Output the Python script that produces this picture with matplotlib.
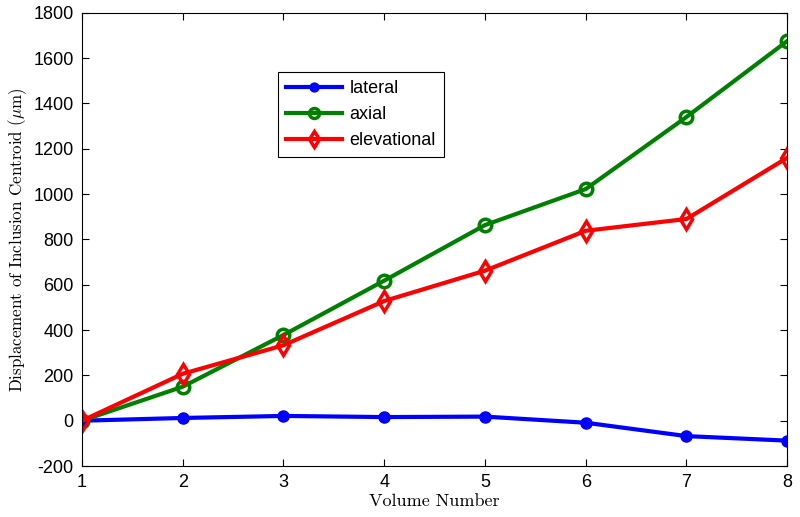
import matplotlib
matplotlib.use("Agg")
import matplotlib.pyplot as plt

volumes = [1, 2, 3, 4, 5, 6, 7, 8]
lateral = [0, 12, 21, 16, 18, -9, -68, -88]
axial = [0, 150, 378, 618, 863, 1022, 1340, 1675]
elevational = [0, 207, 333, 528, 662, 838, 890, 1160]
y_ticks = [-200, 0, 200, 400, 600, 800, 1000, 1200, 1400, 1600, 1800]

plt.rcParams['mathtext.fontset'] = 'cm'
plt.rcParams['axes.unicode_minus'] = False

fig = plt.figure(figsize=(8, 5.17), dpi=100)
ax = fig.add_axes([0.1025, 0.0986, 0.8815, 0.8768])

lw = 3
ax.plot(volumes, lateral, color='#0000ff', lw=lw, marker='o', markersize=8,
        markerfacecolor='#0000ff', markeredgecolor='#0000ff', label='lateral')
ax.plot(volumes, axial, color='#008000', lw=lw, marker='o', markersize=9,
        markerfacecolor='none', markeredgewidth=2.5, markeredgecolor='#008000', label='axial')
ax.plot(volumes, elevational, color='#ff0000', lw=lw, marker='d', markersize=10,
        markerfacecolor='none', markeredgewidth=2.5, markeredgecolor='#ff0000', label='elevational')

ax.set_xlim(1, 8)
ax.set_ylim(-200, 1800)
ax.set_xticks(volumes)
ax.set_yticks(y_ticks)
ax.tick_params(direction='in', top=True, right=True, length=5, width=0.8,
               labelsize=13, pad=6)
for lab in ax.get_xticklabels() + ax.get_yticklabels():
    lab.set_family('Liberation Sans')

ax.set_xlabel('Volume Number', family='cmr10', fontsize=13, labelpad=2)
ax.set_ylabel(r'Displacement of Inclusion Centroid ($\mu$m)', family='cmr10', fontsize=12.2, labelpad=3)

leg = ax.legend(loc='upper left', bbox_to_anchor=(0.278, 0.869), borderaxespad=0,
                prop={'family': 'Liberation Sans', 'size': 13}, fancybox=False,
                edgecolor='black', framealpha=1, handlelength=3.1, handletextpad=0.4,
                labelspacing=0.5, borderpad=0.45, markerscale=0.8)
leg.get_frame().set_linewidth(0.8)

fig.savefig('out.png', dpi=100)
